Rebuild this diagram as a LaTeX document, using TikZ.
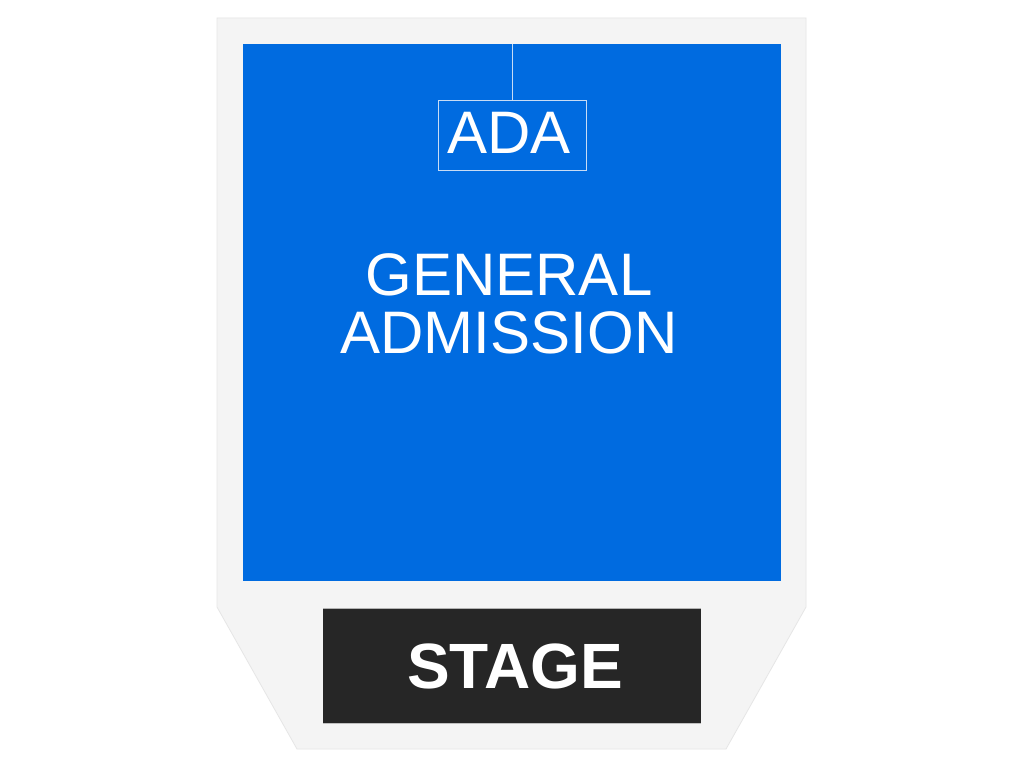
\documentclass[tikz,border=0pt]{standalone}
\usepackage{fontspec}
\setmainfont{Liberation Sans}
\definecolor{venuegray}{HTML}{F4F4F4}
\definecolor{venueedge}{HTML}{E6E6E6}
\definecolor{gablue}{HTML}{006BE0}
\definecolor{stagedark}{HTML}{262626}
\definecolor{adaline}{HTML}{C8DCF5}
\begin{document}
\begin{tikzpicture}[x=1pt,y=-1pt,
  lbl/.style={text=white,inner sep=0pt,anchor=base,font=\fontsize{60}{60}\selectfont},
  stagelbl/.style={text=white,inner sep=0pt,anchor=base,font=\fontsize{64}{64}\selectfont\bfseries}]
\useasboundingbox (0,0) rectangle (1024,768);
\fill[white] (0,0) rectangle (1024,768);
% venue outline
\filldraw[fill=venuegray,draw=venueedge,line width=0.8pt]
  (217,18) -- (806,18) -- (806,607) -- (726,749) -- (297,749) -- (217,607) -- cycle;
% general admission
\fill[gablue] (243,44) rectangle (781,581);
\coordinate (gatop) at (512,44);
\node[draw=adaline,line width=0.8pt,minimum width=148pt,minimum height=70pt,inner sep=0pt] (adabox) at (512,135) {};
\draw[adaline,line width=0.8pt] (gatop) -- (adabox.north);
\node[lbl] (ada) at (509,153) {ADA};
\node[lbl] (gen) at (509,295) {GENERAL};
\node[lbl] (adm) at (509,353) {ADMISSION};
% stage
\filldraw[fill=stagedark,draw=none] (323,608) rectangle (701,724);
\draw[gray!60,line width=1pt] (323,608.5) -- (701,608.5);
\draw[gray!50,line width=1pt] (323,723.5) -- (701,723.5);
\node[stagelbl] (stage) at (515,688) {STAGE};
\end{tikzpicture}
\end{document}
